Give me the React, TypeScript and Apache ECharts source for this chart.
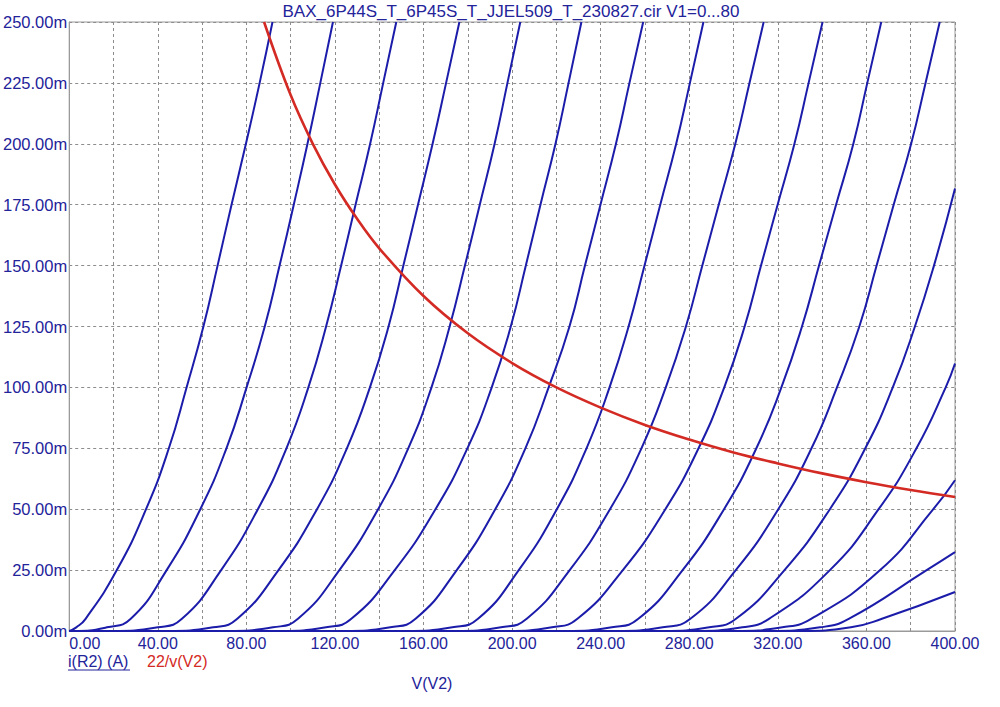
import React, { useEffect, useRef } from 'react';
import * as echarts from 'echarts';

const TITLE = 'BAX_6P44S_T_6P45S_T_JJEL509_T_230827.cir V1=0...80';

const CURRENT_LEVELS = [0, 1.5, 5, 25, 50, 75, 100, 125, 150, 175, 200, 225, 250];

// plate voltage V(V2) of each curve at those levels, V1 = 0, 5, ... 80
const VG_00 = [0, 3.2, 7.4, 21.5, 34.7, 45.0, 53.0, 60.6, 67.0, 73.3, 79.8, 86.0, 91.8];
const VG_05 = [2, 17, 27.8, 44.0, 59.2, 71.0, 80.1, 88.3, 95.0, 101.4, 107.6, 113.4, 119.1];
const VG_10 = [19, 40, 50.9, 68.6, 85.2, 98.1, 108.0, 116.0, 122.8, 129.3, 135.9, 141.8, 147.7];
const VG_15 = [44, 65, 75.9, 94.5, 111.9, 125.4, 135.8, 144.2, 150.9, 157.5, 164.1, 170.2, 176.2];
const VG_20 = [71, 92, 103.3, 122.0, 139.5, 153.1, 163.6, 171.8, 178.7, 185.4, 192.1, 197.9, 203.7];
const VG_25 = [95, 116, 127.4, 147.0, 165.4, 179.8, 190.8, 199.4, 206.2, 212.8, 219.6, 225.5, 231.3];
const VG_30 = [124, 145, 156.4, 175.0, 192.4, 206.0, 216.5, 225.9, 232.9, 239.9, 246.9, 253.0, 259.2];
const VG_35 = [152, 173, 184.6, 203.0, 220.2, 233.6, 244.0, 252.6, 259.8, 266.9, 274.1, 280.3, 286.4];
const VG_40 = [174, 195, 206.6, 226.0, 244.2, 258.4, 269.4, 278.5, 285.9, 293.3, 300.8, 307.2, 313.6];
const VG_45 = [197, 218, 229.5, 250.0, 269.2, 284.2, 295.8, 305.0, 312.4, 319.9, 327.5, 333.9, 340.2];
const VG_50 = [224, 245, 257.0, 277.0, 295.7, 310.3, 321.6, 330.9, 338.6, 346.3, 354.1, 360.4, 366.7];
const VG_55 = [247, 268, 280.5, 301.0, 320.2, 335.2, 346.7, 356.8, 364.6, 372.3, 380.2, 386.7, 393.1];
const VG_60 = [268, 289, 301.1, 323.0, 343.5, 359.5, 371.9, 381.9, 390.5];
const VG_65 = [282, 304, 316.0, 343.5, 365.5, 382.6, 395.8];
const VG_70 = [300, 322, 335.0, 366.2, 390.2];
const VG_75 = [316, 339, 352.0, 387.2];
const VG_80 = [330, 353, 367.0];

const CURVES = [VG_00, VG_05, VG_10, VG_15, VG_20, VG_25, VG_30, VG_35, VG_40,
  VG_45, VG_50, VG_55, VG_60, VG_65, VG_70, VG_75, VG_80];

// current (mA) where the curves that leave through the right edge meet 400 V
const CURRENT_AT_400 = [null, null, null, null, null, null, null, null, null,
  null, null, null, 181.7, 109.8, 61.9, 32.4, 16.0];

// 22/v(V2) dissipation limit
const LIMIT_V = [88, 100, 110, 120, 130, 140, 160, 180, 200, 220, 240, 260, 280, 300, 320, 340, 360, 380, 400];
const LIMIT_I = [250, 220, 200, 183.3, 169.2, 157.1, 137.5, 122.2, 110, 100, 91.7, 84.6, 78.6, 73.3, 68.8, 64.7, 61.1, 57.9, 55];

const TEXT_BLUE = '#23239a';
const CURVE_BLUE = '#1c1caa';
const LIMIT_RED = '#d42a24';
const GRID_GRAY = '#8c8c8c';
const FONT = '"Liberation Sans", Arial, sans-serif';

export default function App() {
  const chartRef = useRef<HTMLDivElement>(null);

  useEffect(() => {
    if (!chartRef.current) return;
    const chart = echarts.init(chartRef.current, undefined, { renderer: 'svg' });

    const curveSeries = CURVES.map((volts, i) => {
      const data: number[][] = [[0, 0]];
      volts.forEach((v, j) => {
        if (v > 0) data.push([v, CURRENT_LEVELS[j]]);
      });
      const end = CURRENT_AT_400[i];
      if (end != null) data.push([400, end]);
      return {
        name: `i(R2) V1=${i * 5}`,
        type: 'line',
        data,
        smooth: 0.5,
        showSymbol: false,
        clip: true,
        lineStyle: { color: CURVE_BLUE, width: 2 },
        itemStyle: { color: CURVE_BLUE },
      };
    });

    const limitSeries = {
      name: '22/v(V2)',
      type: 'line',
      data: LIMIT_V.map((v, i) => [v, LIMIT_I[i]]),
      smooth: 0.4,
      showSymbol: false,
      clip: true,
      z: 3,
      lineStyle: { color: LIMIT_RED, width: 2.6 },
      itemStyle: { color: LIMIT_RED },
    };

    chart.setOption({
      animation: false,
      backgroundColor: '#ffffff',
      grid: {
        left: 68,
        right: 45,
        top: 22,
        bottom: 76,
        show: true,
        borderColor: '#9a9a9a',
        borderWidth: 1,
      },
      xAxis: {
        type: 'value',
        min: 0,
        max: 400,
        interval: 20,
        axisLine: { show: true, lineStyle: { color: '#9a9a9a' } },
        axisTick: { show: false },
        axisLabel: {
          color: TEXT_BLUE,
          fontSize: 16,
          fontFamily: FONT,
          margin: 4,
          alignMinLabel: 'left',
          formatter: (v: number) => (v % 40 === 0 ? v.toFixed(2) : ''),
        },
        splitLine: { show: true, lineStyle: { color: GRID_GRAY, type: [3, 3], width: 1 } },
      },
      yAxis: {
        type: 'value',
        min: 0,
        max: 250,
        interval: 25,
        axisLine: { show: true, lineStyle: { color: '#9a9a9a' } },
        axisTick: { show: false },
        axisLabel: {
          color: TEXT_BLUE,
          fontSize: 16.5,
          fontFamily: FONT,
          margin: 2,
          formatter: (v: number) => `${v.toFixed(2)}m`,
        },
        splitLine: { show: true, lineStyle: { color: GRID_GRAY, type: [3, 3], width: 1 } },
      },
      graphic: [
        {
          type: 'text',
          x: 511,
          y: 11,
          style: {
            text: TITLE,
            fill: TEXT_BLUE,
            fontSize: 17,
            fontFamily: FONT,
            align: 'center',
            verticalAlign: 'middle',
            textAlign: 'center',
            textVerticalAlign: 'middle',
          },
        },
        {
          type: 'text',
          x: 68,
          y: 661,
          style: {
            text: 'i(R2) (A)',
            fill: TEXT_BLUE,
            fontSize: 16,
            fontFamily: FONT,
            verticalAlign: 'middle',
            textVerticalAlign: 'middle',
          },
        },
        {
          type: 'line',
          shape: { x1: 68, y1: 670, x2: 130, y2: 670 },
          style: { stroke: TEXT_BLUE, lineWidth: 1 },
        },
        {
          type: 'text',
          x: 147,
          y: 661,
          style: {
            text: '22/v(V2)',
            fill: LIMIT_RED,
            fontSize: 16,
            fontFamily: FONT,
            verticalAlign: 'middle',
            textVerticalAlign: 'middle',
          },
        },
        {
          type: 'text',
          x: 432,
          y: 683,
          style: {
            text: 'V(V2)',
            fill: TEXT_BLUE,
            fontSize: 16,
            fontFamily: FONT,
            align: 'center',
            verticalAlign: 'middle',
            textAlign: 'center',
            textVerticalAlign: 'middle',
          },
        },
      ],
      series: [...curveSeries, limitSeries],
    });

    return () => {
      chart.dispose();
    };
  }, []);

  return (
    <div
      ref={chartRef}
      style={{ position: 'fixed', left: 0, top: 0, width: 1000, height: 707, background: '#fff' }}
    />
  );
}
